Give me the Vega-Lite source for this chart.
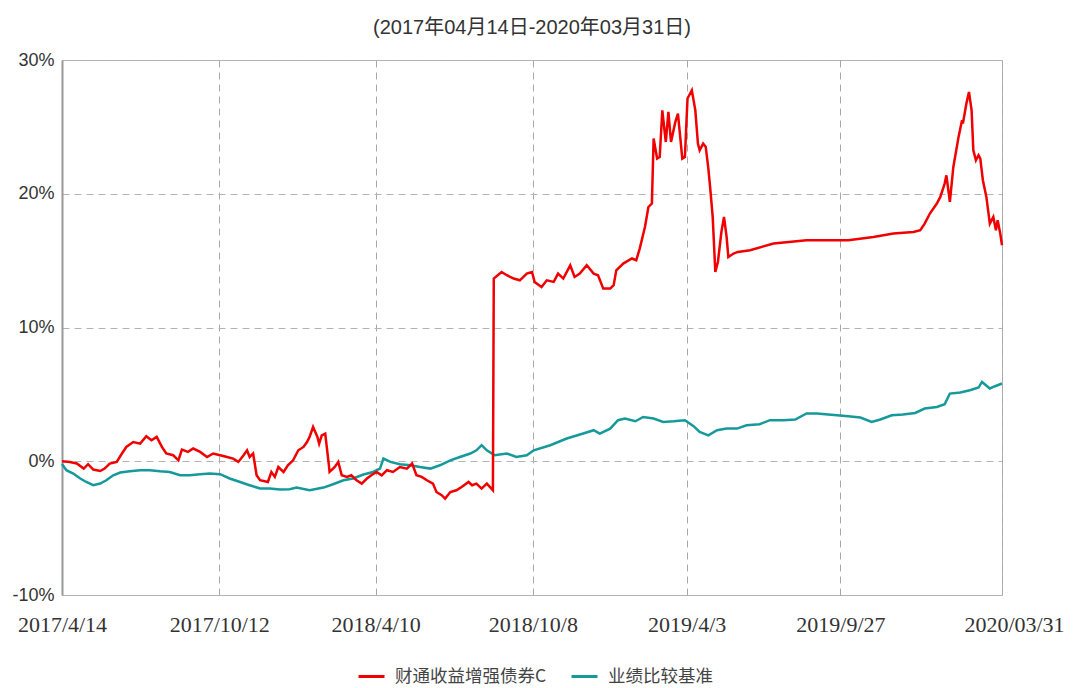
{
  "$schema": "https://vega.github.io/schema/vega-lite/v6.json",
  "width": 940,
  "height": 535,
  "autosize": "none",
  "padding": {"left": 62, "top": 60, "right": 74, "bottom": 93},
  "background": "white",
  "config": {
    "view": {"stroke": "#b0b0b0", "strokeWidth": 1}
  },
  "title": {
    "text": "(2017年04月14日-2020年03月31日)",
    "font": "Liberation Sans, Noto Sans CJK SC",
    "fontSize": 20,
    "fontWeight": "normal",
    "color": "#333333",
    "anchor": "middle",
    "offset": 13
  },
  "datasets": {
    "fund": [
      {"d":"2017-04-14","v":0},{"d":"2017-04-23","v":-0.05},{"d":"2017-05-01","v":-0.17},{"d":"2017-05-09","v":-0.55},{"d":"2017-05-14","v":-0.22},{"d":"2017-05-20","v":-0.62},{"d":"2017-05-28","v":-0.73},{"d":"2017-06-02","v":-0.55},{"d":"2017-06-08","v":-0.17},{"d":"2017-06-16","v":-0.05},{"d":"2017-06-22","v":0.58},{"d":"2017-06-27","v":1.07},{"d":"2017-07-05","v":1.44},{"d":"2017-07-13","v":1.32},{"d":"2017-07-20","v":1.87},{"d":"2017-07-26","v":1.57},{"d":"2017-08-01","v":1.82},{"d":"2017-08-07","v":1.07},{"d":"2017-08-12","v":0.58},{"d":"2017-08-20","v":0.45},{"d":"2017-08-26","v":0.07},{"d":"2017-08-30","v":0.87},{"d":"2017-09-06","v":0.70},{"d":"2017-09-12","v":0.95},{"d":"2017-09-20","v":0.70},{"d":"2017-09-28","v":0.32},{"d":"2017-10-05","v":0.58},{"d":"2017-10-13","v":0.45},{"d":"2017-10-21","v":0.32},{"d":"2017-10-28","v":0.20},{"d":"2017-11-03","v":-0.05},{"d":"2017-11-09","v":0.45},{"d":"2017-11-13","v":0.82},{"d":"2017-11-16","v":0.32},{"d":"2017-11-20","v":0.58},{"d":"2017-11-24","v":-1.05},{"d":"2017-11-28","v":-1.42},{"d":"2017-12-07","v":-1.55},{"d":"2017-12-11","v":-0.80},{"d":"2017-12-15","v":-1.17},{"d":"2017-12-19","v":-0.43},{"d":"2017-12-25","v":-0.80},{"d":"2017-12-30","v":-0.30},
      {"d":"2018-01-05","v":0.07},{"d":"2018-01-11","v":0.82},{"d":"2018-01-17","v":1.07},{"d":"2018-01-21","v":1.44},{"d":"2018-01-24","v":1.82},{"d":"2018-01-28","v":2.56},{"d":"2018-02-02","v":1.82},{"d":"2018-02-04","v":1.32},{"d":"2018-02-07","v":1.94},{"d":"2018-02-11","v":2.07},{"d":"2018-02-15","v":-0.17},{"d":"2018-02-16","v":-0.80},{"d":"2018-02-22","v":-0.43},{"d":"2018-02-26","v":-0.05},{"d":"2018-03-02","v":-1.05},{"d":"2018-03-08","v":-1.17},{"d":"2018-03-13","v":-1.05},{"d":"2018-03-19","v":-1.42},{"d":"2018-03-25","v":-1.67},{"d":"2018-03-31","v":-1.29},{"d":"2018-04-05","v":-1.05},{"d":"2018-04-11","v":-0.80},{"d":"2018-04-17","v":-1.05},{"d":"2018-04-23","v":-0.67},{"d":"2018-04-30","v":-0.80},{"d":"2018-05-08","v":-0.43},{"d":"2018-05-16","v":-0.55},{"d":"2018-05-22","v":-0.17},{"d":"2018-05-27","v":-1.05},{"d":"2018-06-02","v":-1.17},{"d":"2018-06-08","v":-1.42},{"d":"2018-06-15","v":-1.67},{"d":"2018-06-19","v":-2.30},{"d":"2018-06-25","v":-2.54},{"d":"2018-06-29","v":-2.79},{"d":"2018-07-05","v":-2.30},{"d":"2018-07-12","v":-2.17},{"d":"2018-07-18","v":-1.92},{"d":"2018-07-26","v":-1.55},{"d":"2018-07-30","v":-1.79},{"d":"2018-08-04","v":-1.67},{"d":"2018-08-10","v":-2.04},{"d":"2018-08-16","v":-1.67},{"d":"2018-08-23","v":-2.17},{"d":"2018-08-24","v":13.66},{"d":"2018-09-02","v":14.15},{"d":"2018-09-08","v":13.91},{"d":"2018-09-16","v":13.66},{"d":"2018-09-23","v":13.53},{"d":"2018-10-01","v":14.03},{"d":"2018-10-07","v":14.15},{"d":"2018-10-10","v":13.41},{"d":"2018-10-18","v":13.03},{"d":"2018-10-24","v":13.53},{"d":"2018-11-01","v":13.41},{"d":"2018-11-06","v":14.03},{"d":"2018-11-12","v":13.66},{"d":"2018-11-20","v":14.65},{"d":"2018-11-25","v":13.78},{"d":"2018-12-01","v":14.03},{"d":"2018-12-09","v":14.65},{"d":"2018-12-17","v":14.03},{"d":"2018-12-22","v":13.91},{"d":"2018-12-28","v":12.91},
      {"d":"2019-01-05","v":12.91},{"d":"2019-01-09","v":13.16},{"d":"2019-01-12","v":14.28},{"d":"2019-01-20","v":14.78},{"d":"2019-01-30","v":15.16},{"d":"2019-02-04","v":15.03},{"d":"2019-02-08","v":15.90},{"d":"2019-02-14","v":17.52},{"d":"2019-02-18","v":19.01},{"d":"2019-02-22","v":19.27},{"d":"2019-02-24","v":24.13},{"d":"2019-02-28","v":22.63},{"d":"2019-03-03","v":22.75},{"d":"2019-03-06","v":26.24},{"d":"2019-03-10","v":23.87},{"d":"2019-03-13","v":26.12},{"d":"2019-03-16","v":23.87},{"d":"2019-03-21","v":25.37},{"d":"2019-03-24","v":26.00},{"d":"2019-03-29","v":22.63},{"d":"2019-04-01","v":22.75},{"d":"2019-04-04","v":27.12},{"d":"2019-04-09","v":27.74},{"d":"2019-04-13","v":26.24},{"d":"2019-04-16","v":23.75},{"d":"2019-04-18","v":23.25},{"d":"2019-04-22","v":23.75},{"d":"2019-04-25","v":23.50},{"d":"2019-04-28","v":21.88},{"d":"2019-04-30","v":20.51},{"d":"2019-05-03","v":18.27},{"d":"2019-05-06","v":14.15},{"d":"2019-05-09","v":14.90},{"d":"2019-05-13","v":17.14},{"d":"2019-05-16","v":18.27},{"d":"2019-05-19","v":16.77},{"d":"2019-05-21","v":15.27},{"d":"2019-05-27","v":15.53},{"d":"2019-06-01","v":15.65},{"d":"2019-06-15","v":15.78},{"d":"2019-07-12","v":16.28},{"d":"2019-08-19","v":16.52},{"d":"2019-10-06","v":16.52},{"d":"2019-11-04","v":16.77},{"d":"2019-11-27","v":17.02},{"d":"2019-12-20","v":17.14},{"d":"2019-12-28","v":17.27},
      {"d":"2020-01-02","v":17.77},{"d":"2020-01-08","v":18.52},{"d":"2020-01-16","v":19.27},{"d":"2020-01-20","v":19.76},{"d":"2020-01-25","v":20.76},{"d":"2020-01-27","v":21.38},{"d":"2020-01-31","v":19.39},{"d":"2020-02-04","v":22.00},{"d":"2020-02-10","v":24.25},{"d":"2020-02-14","v":25.50},{"d":"2020-02-15","v":25.25},{"d":"2020-02-19","v":26.74},{"d":"2020-02-22","v":27.61},{"d":"2020-02-25","v":26.24},{"d":"2020-02-27","v":23.25},{"d":"2020-03-01","v":22.50},{"d":"2020-03-04","v":22.88},{"d":"2020-03-06","v":22.63},{"d":"2020-03-09","v":21.01},{"d":"2020-03-13","v":19.76},{"d":"2020-03-17","v":17.77},{"d":"2020-03-21","v":18.27},{"d":"2020-03-24","v":17.27},{"d":"2020-03-26","v":18.02},{"d":"2020-03-29","v":17.02},{"d":"2020-03-31","v":16.15}
    ],
    "bench": [
      {"d":"2017-04-14","v":-0.2},{"d":"2017-04-19","v":-0.67},{"d":"2017-04-27","v":-0.92},{"d":"2017-05-05","v":-1.29},{"d":"2017-05-12","v":-1.55},{"d":"2017-05-20","v":-1.79},{"d":"2017-05-28","v":-1.67},{"d":"2017-06-04","v":-1.42},{"d":"2017-06-12","v":-1.05},{"d":"2017-06-20","v":-0.84},{"d":"2017-07-01","v":-0.75},{"d":"2017-07-13","v":-0.67},{"d":"2017-07-24","v":-0.67},{"d":"2017-08-05","v":-0.75},{"d":"2017-08-16","v":-0.80},{"d":"2017-08-28","v":-1.05},{"d":"2017-09-08","v":-1.05},{"d":"2017-09-20","v":-0.97},{"d":"2017-10-01","v":-0.92},{"d":"2017-10-13","v":-0.97},{"d":"2017-10-24","v":-1.29},{"d":"2017-11-05","v":-1.55},{"d":"2017-11-16","v":-1.79},{"d":"2017-11-28","v":-2.04},{"d":"2017-12-09","v":-2.04},{"d":"2017-12-21","v":-2.12},
      {"d":"2018-01-01","v":-2.09},{"d":"2018-01-09","v":-1.97},{"d":"2018-01-24","v":-2.17},{"d":"2018-02-09","v":-1.97},{"d":"2018-02-20","v":-1.72},{"d":"2018-03-04","v":-1.42},{"d":"2018-03-15","v":-1.29},{"d":"2018-03-27","v":-0.99},{"d":"2018-04-07","v":-0.80},{"d":"2018-04-15","v":-0.55},{"d":"2018-04-19","v":0.20},{"d":"2018-04-27","v":-0.05},{"d":"2018-05-08","v":-0.22},{"d":"2018-05-20","v":-0.30},{"d":"2018-05-31","v":-0.43},{"d":"2018-06-12","v":-0.55},{"d":"2018-06-23","v":-0.30},{"d":"2018-07-05","v":0.07},{"d":"2018-07-16","v":0.32},{"d":"2018-07-28","v":0.58},{"d":"2018-08-04","v":0.82},{"d":"2018-08-10","v":1.20},{"d":"2018-08-16","v":0.82},{"d":"2018-08-25","v":0.45},{"d":"2018-09-08","v":0.58},{"d":"2018-09-19","v":0.32},{"d":"2018-10-01","v":0.45},{"d":"2018-10-09","v":0.82},{"d":"2018-10-28","v":1.20},{"d":"2018-11-16","v":1.70},{"d":"2018-12-05","v":2.07},{"d":"2018-12-17","v":2.32},{"d":"2018-12-24","v":2.07},
      {"d":"2019-01-05","v":2.44},{"d":"2019-01-14","v":3.07},{"d":"2019-01-22","v":3.19},{"d":"2019-02-03","v":2.99},{"d":"2019-02-12","v":3.31},{"d":"2019-02-24","v":3.19},{"d":"2019-03-07","v":2.94},{"d":"2019-03-19","v":2.99},{"d":"2019-04-01","v":3.07},{"d":"2019-04-11","v":2.62},{"d":"2019-04-18","v":2.19},{"d":"2019-04-28","v":1.94},{"d":"2019-05-08","v":2.32},{"d":"2019-05-19","v":2.44},{"d":"2019-05-31","v":2.44},{"d":"2019-06-11","v":2.69},{"d":"2019-06-26","v":2.77},{"d":"2019-07-08","v":3.07},{"d":"2019-07-23","v":3.07},{"d":"2019-08-06","v":3.12},{"d":"2019-08-19","v":3.57},{"d":"2019-08-31","v":3.57},{"d":"2019-09-13","v":3.49},{"d":"2019-09-23","v":3.44},{"d":"2019-10-06","v":3.36},{"d":"2019-10-20","v":3.27},{"d":"2019-11-02","v":2.94},{"d":"2019-11-12","v":3.12},{"d":"2019-11-25","v":3.44},{"d":"2019-12-08","v":3.49},{"d":"2019-12-22","v":3.61},
      {"d":"2020-01-02","v":3.94},{"d":"2020-01-16","v":4.06},{"d":"2020-01-25","v":4.26},{"d":"2020-01-31","v":5.06},{"d":"2020-02-12","v":5.14},{"d":"2020-02-23","v":5.31},{"d":"2020-03-04","v":5.51},{"d":"2020-03-08","v":5.93},{"d":"2020-03-17","v":5.44},{"d":"2020-03-23","v":5.61},{"d":"2020-03-31","v":5.81}
    ]
  },
  "encoding": {
    "x": {
      "field": "d",
      "type": "temporal",
      "scale": {"domain": [{"year":2017,"month":4,"date":14},{"year":2020,"month":3,"date":31}], "nice": false},
      "axis": {
        "title": null,
        "values": [
          {"year":2017,"month":4,"date":14},
          {"year":2017,"month":10,"date":12},
          {"year":2018,"month":4,"date":10},
          {"year":2018,"month":10,"date":8},
          {"year":2019,"month":4,"date":3},
          {"year":2019,"month":9,"date":27},
          {"year":2020,"month":3,"date":31}
        ],
        "labelExpr": "year(datum.value) == 2020 ? '2020/03/31' : timeFormat(datum.value, '%Y/%-m/%-d')",
        "labelFlush": false,
        "labelOverlap": false,
        "labelBound": false,
        "labelFont": "Liberation Serif",
        "labelFontSize": 22,
        "labelColor": "#333333",
        "labelPadding": 19,
        "labelOffset": {"condition": {"test": "year(datum.value) == 2020", "value": 12}, "value": 0},
        "domain": false,
        "ticks": false,
        "grid": true,
        "gridColor": "#a8a8a8",
        "gridDash": [7, 5],
        "gridWidth": 1
      }
    },
    "y": {
      "field": "v",
      "type": "quantitative",
      "scale": {"domain": [-10, 30], "nice": false},
      "axis": {
        "title": null,
        "values": [-10, 0, 10, 20, 30],
        "labelExpr": "datum.value + '%'",
        "labelFont": "Liberation Sans",
        "labelFontSize": 18,
        "labelColor": "#333333",
        "labelPadding": 8,
        "domain": true,
        "domainColor": "#999999",
        "domainWidth": 2,
        "ticks": false,
        "grid": true,
        "gridColor": "#b4b4b4",
        "gridDash": [7, 5],
        "gridWidth": 1
      }
    }
  },
  "layer": [
    {
      "data": {"name": "bench"},
      "mark": {"type": "line", "strokeWidth": 2.5, "interpolate": "linear"},
      "encoding": {
        "color": {
          "datum": "业绩比较基准",
          "type": "nominal",
          "scale": {"domain": ["财通收益增强债券C", "业绩比较基准"], "range": ["#f00000", "#15999a"]},
          "legend": {
            "title": null,
            "orient": "none",
            "legendX": 295,
            "legendY": 602,
            "direction": "horizontal",
            "symbolType": "stroke",
            "symbolSize": 676,
            "symbolStrokeWidth": 3,
            "labelFont": "Noto Sans CJK SC",
            "labelFontSize": 17.5,
            "labelColor": "#444444",
            "labelOffset": 9,
            "columnPadding": 18
          }
        }
      }
    },
    {
      "data": {"name": "fund"},
      "mark": {"type": "line", "strokeWidth": 2.5, "interpolate": "linear"},
      "encoding": {
        "color": {"datum": "财通收益增强债券C", "type": "nominal"}
      }
    }
  ]
}
